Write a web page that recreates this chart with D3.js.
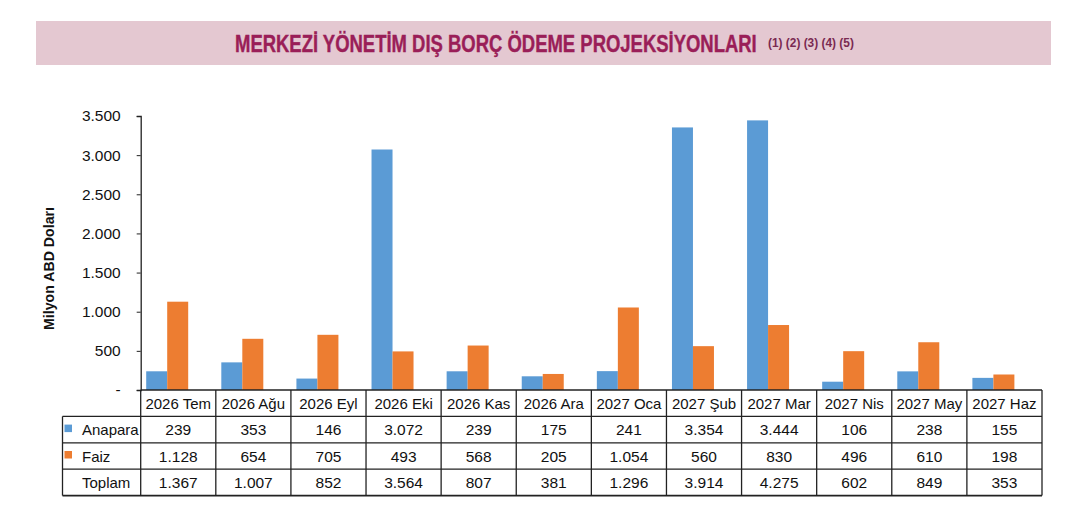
<!DOCTYPE html>
<html lang="tr">
<head>
    <meta charset="UTF-8">
    <title>Merkezi Yönetim Dış Borç Ödeme Projeksiyonları</title>
    <style type="text/css">
        * {
            margin: 0;
            padding: 0;
        }
        body {
            background: white;
        }
    </style>
</head>
<body>
<div id="chart-area"></div>
<script src="https://cdn.jsdelivr.net/npm/d3@7/dist/d3.min.js"></script>
<script type="text/javascript">
    const categories = ['2026 Tem', '2026 Ağu', '2026 Eyl', '2026 Eki', '2026 Kas', '2026 Ara',
        '2027 Oca', '2027 Şub', '2027 Mar', '2027 Nis', '2027 May', '2027 Haz']
    const anapara = [239, 353, 146, 3072, 239, 175, 241, 3354, 3444, 106, 238, 155]
    const faiz = [1128, 654, 705, 493, 568, 205, 1054, 560, 830, 496, 610, 198]
    const toplam = [1367, 1007, 852, 3564, 807, 381, 1296, 3914, 4275, 602, 849, 353]
    const seriesNames = ['Anapara', 'Faiz']
    const yTicks = [0, 500, 1000, 1500, 2000, 2500, 3000, 3500]

    const width = 1081
    const height = 522
    const colors = {Anapara: '#5b9bd5', Faiz: '#ed7d31'}

    const tr = d3.formatLocale({decimal: ',', thousands: '.', grouping: [3], currency: ['', '']})
    const fmt = tr.format(',d')

    const svg = d3.select('#chart-area').append('svg')
    .attr('width', width)
    .attr('height', height)
    .style('background-color', 'white')
    .style('font-family', '"Liberation Sans", Arial, sans-serif')

    // squeeze a text horizontally so it fills the given width
    function fitWidth(sel, x0, y0, w) {
      const natural = sel.node().getComputedTextLength()
      sel.attr('transform', `translate(${x0},${y0}) scale(${w / natural},1)`)
    }

    // title band
    svg.append('rect')
    .attr('x', 36)
    .attr('y', 21)
    .attr('width', 1015)
    .attr('height', 44)
    .attr('fill', '#e4c8d1')

    const title = svg.append('text')
    .style('font-weight', 'bold')
    .style('font-size', '23.5px')
    .attr('fill', '#9a1e58')
    .attr('stroke', '#9a1e58')
    .attr('stroke-width', 0.4)
    .text('MERKEZİ YÖNETİM DIŞ BORÇ ÖDEME PROJEKSİYONLARI')
    fitWidth(title, 235, 52, 522)

    const notes = svg.append('text')
    .style('font-weight', 'bold')
    .style('font-size', '12.5px')
    .attr('fill', '#7a2a52')
    .text('(1) (2) (3) (4) (5)')
    fitWidth(notes, 768, 46.5, 86)

    // plot
    const plotLeft = 140.7
    const plotRight = 1042
    const plotTop = 116
    const plotBottom = 390

    const x = d3.scaleBand()
    .domain(categories)
    .range([plotLeft, plotRight])

    const x1 = d3.scaleBand()
    .domain(seriesNames)
    .range([5.5, 47.5])

    const y = d3.scaleLinear()
    .domain([0, 3500])
    .range([plotBottom, plotTop])

    const groups = svg.append('g').selectAll('g')
    .data(categories)
    .enter().append('g')
    .attr('transform', d => `translate(${x(d)},0)`)

    groups.selectAll('rect')
    .data((d, i) => [{s: 'Anapara', v: anapara[i]}, {s: 'Faiz', v: faiz[i]}])
    .enter().append('rect')
    .attr('x', d => x1(d.s))
    .attr('y', d => y(d.v))
    .attr('width', x1.bandwidth())
    .attr('height', d => plotBottom - y(d.v))
    .attr('fill', d => colors[d.s])

    const yAxis = svg.append('g')
    .attr('transform', `translate(${plotLeft},0)`)
    .call(d3.axisLeft(y)
      .tickValues(yTicks)
      .tickSize(4)
      .tickPadding(16)
      .tickFormat(d => d === 0 ? '-' : fmt(d)))
    yAxis.select('.domain').attr('stroke', '#222').attr('stroke-width', 1.3)
    yAxis.selectAll('.tick line').attr('stroke', '#222')
    yAxis.selectAll('.tick text')
    .style('font-size', '15.5px')
    .attr('fill', '#111')

    const yLabel = svg.append('text')
    .attr('text-anchor', 'middle')
    .style('font-weight', 'bold')
    .style('font-size', '14.5px')
    .attr('fill', '#111')
    .text('Milyon ABD Doları')
    const yLabelLen = yLabel.node().getComputedTextLength()
    yLabel.attr('transform', `translate(54,268.5) rotate(-90) scale(${123 / yLabelLen},1)`)

    // data table
    const rowH = 26.4
    const tableLeft = 62.5
    const rows = [
        {name: 'Anapara', values: anapara, marker: colors.Anapara},
        {name: 'Faiz', values: faiz, marker: colors.Faiz},
        {name: 'Toplam', values: toplam, marker: null}
    ]
    const table = svg.append('g')
    const lineColor = '#222'

    // header row
    table.selectAll('.head')
    .data(categories)
    .enter().append('text')
    .attr('class', 'head')
    .attr('x', d => x(d) + x.bandwidth() / 2)
    .attr('y', plotBottom + rowH / 2 + 5.5)
    .attr('text-anchor', 'middle')
    .style('font-size', '15px')
    .attr('fill', '#111')
    .text(d => d)

    rows.forEach((r, ri) => {
      const cy = plotBottom + rowH * (ri + 1) + rowH / 2 + 5.5
      table.selectAll('.cell' + ri)
      .data(r.values)
      .enter().append('text')
      .attr('x', (d, i) => x(categories[i]) + x.bandwidth() / 2)
      .attr('y', cy)
      .attr('text-anchor', 'middle')
      .style('font-size', '15.5px')
      .attr('fill', '#111')
      .text(d => fmt(d))

      if (r.marker) {
        table.append('rect')
        .attr('x', 64.5)
        .attr('y', cy - 10.5)
        .attr('width', 7.5)
        .attr('height', 7.5)
        .attr('fill', r.marker)
      }
      table.append('text')
      .attr('x', 82)
      .attr('y', cy)
      .style('font-size', '15px')
      .attr('fill', '#111')
      .text(r.name)
    })

    // grid lines
    const hLines = [0, 1, 2, 3, 4].map(i => plotBottom + rowH * i)
    table.selectAll('.hline')
    .data(hLines)
    .enter().append('line')
    .attr('x1', (d, i) => i === 0 ? plotLeft : tableLeft)
    .attr('x2', plotRight)
    .attr('y1', d => d)
    .attr('y2', d => d)
    .attr('stroke', lineColor)
    .attr('stroke-width', (d, i) => i === 4 ? 1.8 : 1.3)

    const vLines = categories.map(c => x(c)).concat([plotRight])
    table.selectAll('.vline')
    .data(vLines)
    .enter().append('line')
    .attr('x1', d => d)
    .attr('x2', d => d)
    .attr('y1', plotBottom)
    .attr('y2', plotBottom + rowH * 4)
    .attr('stroke', lineColor)
    .attr('stroke-width', 1.3)

    table.append('line')
    .attr('x1', tableLeft)
    .attr('x2', tableLeft)
    .attr('y1', plotBottom + rowH)
    .attr('y2', plotBottom + rowH * 4)
    .attr('stroke', lineColor)
    .attr('stroke-width', 1.3)
</script>
</body>
</html>
